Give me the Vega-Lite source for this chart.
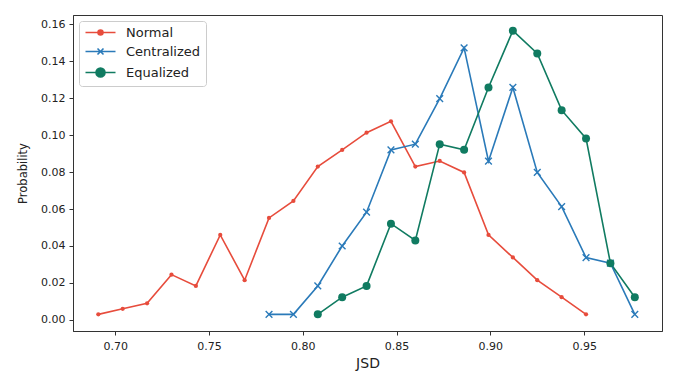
{
  "$schema": "https://vega.github.io/schema/vega-lite/v6.json",
  "width": 589,
  "height": 316,
  "autosize": "none",
  "padding": {"left": 73, "top": 15, "right": 15, "bottom": 56},
  "background": "white",
  "config": {
    "font": "DejaVu Sans",
    "view": {"stroke": "#333", "strokeWidth": 1},
    "axis": {
      "grid": false,
      "domainColor": "#333",
      "tickColor": "#333",
      "labelFont": "DejaVu Sans",
      "titleFont": "DejaVu Sans",
      "labelFontSize": 11,
      "labelColor": "#222",
      "titleColor": "#222",
      "titleFontWeight": "normal",
      "tickSize": 4
    }
  },
  "data": {
    "values": [
      {"series": "Normal", "jsd": 0.691, "p": 0.003},
      {"series": "Normal", "jsd": 0.704, "p": 0.006},
      {"series": "Normal", "jsd": 0.717, "p": 0.009},
      {"series": "Normal", "jsd": 0.730, "p": 0.0245},
      {"series": "Normal", "jsd": 0.743, "p": 0.0184},
      {"series": "Normal", "jsd": 0.756, "p": 0.046},
      {"series": "Normal", "jsd": 0.769, "p": 0.0215},
      {"series": "Normal", "jsd": 0.782, "p": 0.0552},
      {"series": "Normal", "jsd": 0.795, "p": 0.0644},
      {"series": "Normal", "jsd": 0.808, "p": 0.083},
      {"series": "Normal", "jsd": 0.821, "p": 0.092},
      {"series": "Normal", "jsd": 0.834, "p": 0.1013},
      {"series": "Normal", "jsd": 0.847, "p": 0.1075},
      {"series": "Normal", "jsd": 0.860, "p": 0.083},
      {"series": "Normal", "jsd": 0.873, "p": 0.086},
      {"series": "Normal", "jsd": 0.886, "p": 0.0798},
      {"series": "Normal", "jsd": 0.899, "p": 0.046},
      {"series": "Normal", "jsd": 0.912, "p": 0.0338},
      {"series": "Normal", "jsd": 0.925, "p": 0.0215},
      {"series": "Normal", "jsd": 0.938, "p": 0.0123},
      {"series": "Normal", "jsd": 0.951, "p": 0.003},
      {"series": "Centralized", "jsd": 0.782, "p": 0.003},
      {"series": "Centralized", "jsd": 0.795, "p": 0.003},
      {"series": "Centralized", "jsd": 0.808, "p": 0.0184},
      {"series": "Centralized", "jsd": 0.821, "p": 0.040},
      {"series": "Centralized", "jsd": 0.834, "p": 0.0583},
      {"series": "Centralized", "jsd": 0.847, "p": 0.092},
      {"series": "Centralized", "jsd": 0.860, "p": 0.0951},
      {"series": "Centralized", "jsd": 0.873, "p": 0.1197},
      {"series": "Centralized", "jsd": 0.886, "p": 0.1472},
      {"series": "Centralized", "jsd": 0.899, "p": 0.0859},
      {"series": "Centralized", "jsd": 0.912, "p": 0.1258},
      {"series": "Centralized", "jsd": 0.925, "p": 0.0798},
      {"series": "Centralized", "jsd": 0.938, "p": 0.0613},
      {"series": "Centralized", "jsd": 0.951, "p": 0.0337},
      {"series": "Centralized", "jsd": 0.964, "p": 0.0307},
      {"series": "Centralized", "jsd": 0.977, "p": 0.003},
      {"series": "Equalized", "jsd": 0.808, "p": 0.003},
      {"series": "Equalized", "jsd": 0.821, "p": 0.0123},
      {"series": "Equalized", "jsd": 0.834, "p": 0.0184},
      {"series": "Equalized", "jsd": 0.847, "p": 0.0521},
      {"series": "Equalized", "jsd": 0.860, "p": 0.043},
      {"series": "Equalized", "jsd": 0.873, "p": 0.0951},
      {"series": "Equalized", "jsd": 0.886, "p": 0.0921},
      {"series": "Equalized", "jsd": 0.899, "p": 0.1258},
      {"series": "Equalized", "jsd": 0.912, "p": 0.1565},
      {"series": "Equalized", "jsd": 0.925, "p": 0.1442},
      {"series": "Equalized", "jsd": 0.938, "p": 0.1135},
      {"series": "Equalized", "jsd": 0.951, "p": 0.0982},
      {"series": "Equalized", "jsd": 0.964, "p": 0.0307},
      {"series": "Equalized", "jsd": 0.977, "p": 0.0123}
    ]
  },
  "encoding": {
    "x": {
      "field": "jsd", "type": "quantitative",
      "scale": {"domain": [0.6775, 0.9915], "nice": false, "zero": false},
      "axis": {"values": [0.70, 0.75, 0.80, 0.85, 0.90, 0.95], "format": ".2f", "title": "JSD", "titleFontSize": 14, "titlePadding": 5, "labelPadding": 5}
    },
    "y": {
      "field": "p", "type": "quantitative",
      "scale": {"domain": [-0.006, 0.165], "nice": false, "zero": false},
      "axis": {"values": [0, 0.02, 0.04, 0.06, 0.08, 0.10, 0.12, 0.14, 0.16], "format": ".2f", "title": "Probability", "titleFontSize": 11.5, "titlePadding": 12, "labelPadding": 4}
    }
  },
  "layer": [
    {
      "mark": {"type": "line", "strokeWidth": 1.6},
      "encoding": {
        "color": {
          "field": "series", "type": "nominal",
          "scale": {"domain": ["Normal", "Centralized", "Equalized"], "range": ["#e74c3c", "#2a7ab9", "#107b61"]},
          "legend": {
            "title": null,
            "orient": "top-left",
            "offset": 6,
            "padding": 5,
            "fillColor": "white",
            "strokeColor": "#ccc",
            "cornerRadius": 3,
            "symbolSize": 100,
            "symbolStrokeWidth": 1.6,
            "labelOffset": 29,
            "labelFontSize": 13,
            "labelFont": "DejaVu Sans",
            "labelColor": "#222",
            "rowPadding": 5,
            "encode": {
              "symbols": {
                "update": {
                  "shape": {"signal": "datum.value === 'Normal' ? 'M-1,0H5M2.5,0A0.5,0.5 0 1,1 1.5,0A0.5,0.5 0 1,1 2.5,0Z' : datum.value === 'Centralized' ? 'M-1,0H5M1.4,-0.6L2.6,0.6M1.4,0.6L2.6,-0.6' : 'M-1,0H5M2.9,0A0.9,0.9 0 1,1 1.1,0A0.9,0.9 0 1,1 2.9,0Z'"},
                  "fill": {"signal": "scale('color', datum.value)"},
                  "opacity": {"value": 1}
                }
              }
            }
          }
        }
      }
    },
    {
      "transform": [{"filter": "datum.series === 'Normal'"}],
      "mark": {"type": "point", "shape": "circle", "filled": true, "size": 18, "opacity": 1, "color": "#e74c3c"},
      "encoding": {}
    },
    {
      "transform": [{"filter": "datum.series === 'Centralized'"}],
      "mark": {"type": "point", "shape": "M-1,-1L1,1M-1,1L1,-1", "filled": false, "size": 45, "strokeWidth": 1.4, "opacity": 1, "color": "#2a7ab9"},
      "encoding": {}
    },
    {
      "transform": [{"filter": "datum.series === 'Equalized'"}],
      "mark": {"type": "point", "shape": "circle", "filled": true, "size": 64, "opacity": 1, "color": "#107b61"},
      "encoding": {}
    }
  ]
}
